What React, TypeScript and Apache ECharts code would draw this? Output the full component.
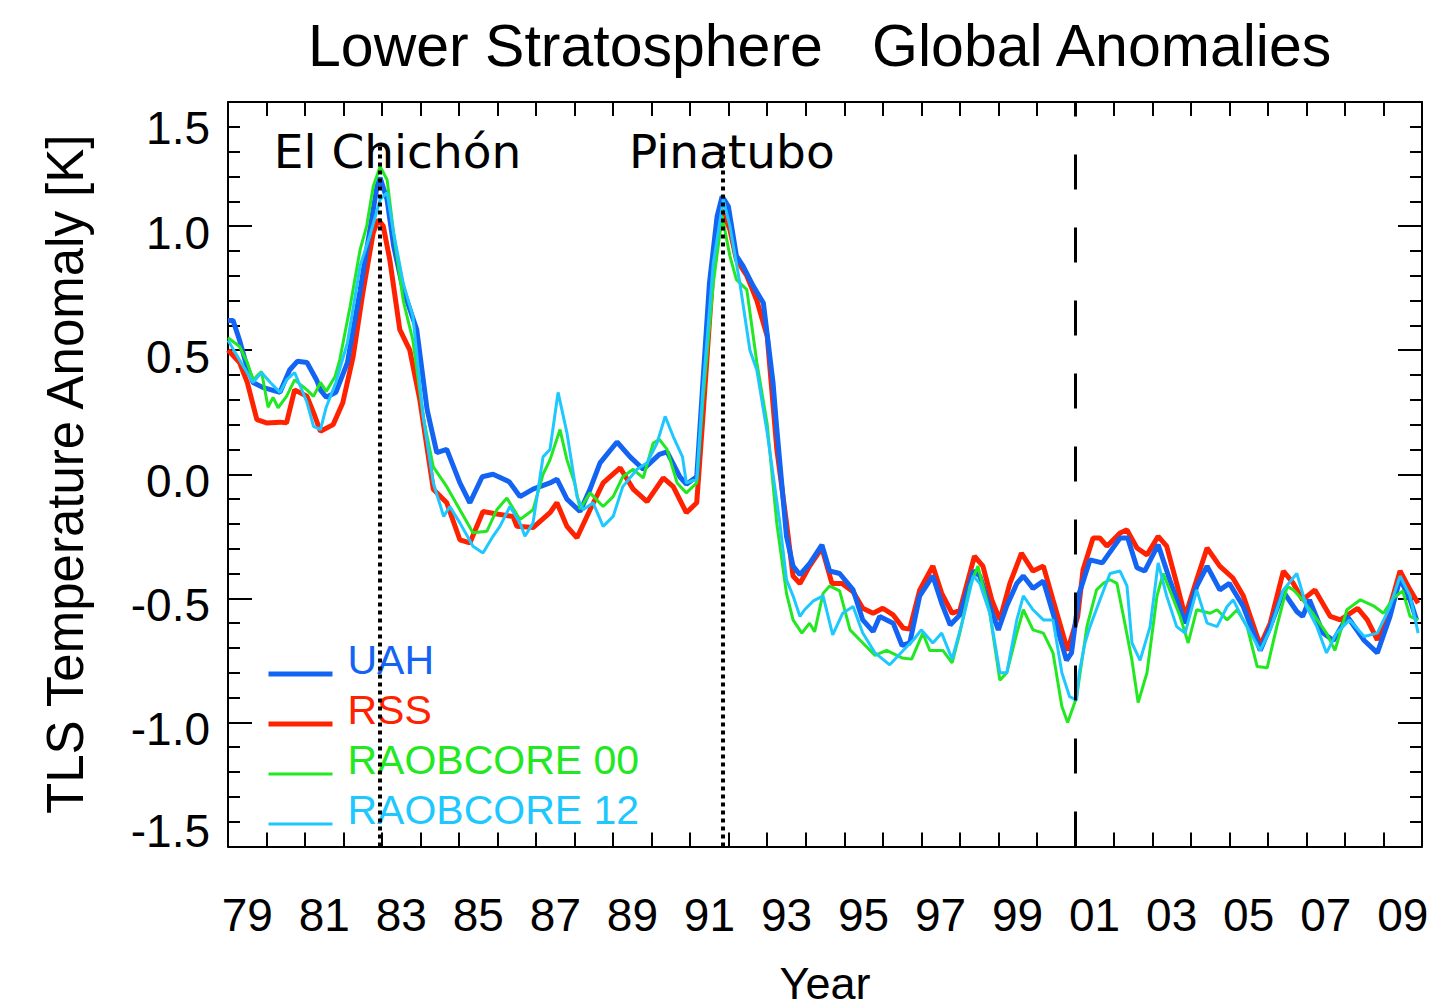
import React, { useEffect, useRef } from 'react';
import * as echarts from 'echarts';

// ---- Data: [decimal year, anomaly K] ----
const UAH: [number, number][] = [
  [1979.0, 0.62], [1979.13, 0.62], [1979.3, 0.54], [1979.48, 0.44], [1979.65, 0.37], [1979.9, 0.35],
  [1980.35, 0.33], [1980.6, 0.42], [1980.8, 0.455], [1981.05, 0.45], [1981.3, 0.38], [1981.4, 0.34],
  [1981.55, 0.31], [1981.8, 0.33], [1982.1, 0.45], [1982.43, 0.74], [1982.6, 0.905], [1982.87, 1.16],
  [1982.95, 1.195], [1983.13, 1.107], [1983.3, 0.92], [1983.55, 0.744], [1983.9, 0.583], [1984.17, 0.26],
  [1984.42, 0.087], [1984.68, 0.1], [1985.02, -0.035], [1985.28, -0.115], [1985.6, -0.01], [1985.88, 0.0],
  [1986.3, -0.03], [1986.58, -0.09], [1986.92, -0.06], [1987.36, -0.035], [1987.54, -0.02], [1987.8, -0.1],
  [1988.14, -0.15], [1988.4, -0.06], [1988.66, 0.046], [1989.1, 0.13], [1989.44, 0.07], [1989.78, 0.02],
  [1990.2, 0.08], [1990.4, 0.09], [1990.73, -0.01], [1990.9, -0.04], [1991.17, -0.01], [1991.33, 0.37],
  [1991.5, 0.77], [1991.7, 1.04], [1991.83, 1.12], [1991.99, 1.08], [1992.2, 0.88], [1992.37, 0.84],
  [1992.63, 0.76], [1992.9, 0.69], [1993.15, 0.37], [1993.25, 0.18], [1993.5, -0.25], [1993.67, -0.37],
  [1993.85, -0.405], [1994.1, -0.36], [1994.42, -0.285], [1994.62, -0.39], [1994.88, -0.4], [1995.23, -0.466],
  [1995.48, -0.587], [1995.75, -0.634], [1995.92, -0.573], [1996.27, -0.6], [1996.5, -0.69], [1996.7, -0.68],
  [1996.96, -0.49], [1997.3, -0.41], [1997.53, -0.52], [1997.75, -0.607], [1998.0, -0.567], [1998.35, -0.39],
  [1998.52, -0.41], [1998.78, -0.533], [1999.0, -0.627], [1999.22, -0.53], [1999.48, -0.44], [1999.65, -0.41],
  [1999.9, -0.46], [2000.17, -0.43], [2000.42, -0.56], [2000.77, -0.75], [2000.9, -0.72], [2001.1, -0.48],
  [2001.38, -0.345], [2001.7, -0.357], [2002.16, -0.257], [2002.36, -0.257], [2002.6, -0.377], [2002.8, -0.39],
  [2003.15, -0.284], [2003.45, -0.425], [2003.85, -0.6], [2004.15, -0.452], [2004.42, -0.37], [2004.75, -0.466],
  [2005.0, -0.44], [2005.36, -0.533], [2005.8, -0.71], [2006.06, -0.614], [2006.4, -0.473], [2006.75, -0.553],
  [2006.9, -0.573], [2007.08, -0.506], [2007.43, -0.64], [2007.7, -0.67], [2008.06, -0.573], [2008.5, -0.67],
  [2008.84, -0.72], [2009.17, -0.573], [2009.43, -0.42], [2009.69, -0.506], [2009.86, -0.587],
];

const RSS: [number, number][] = [
  [1979.0, 0.5], [1979.3, 0.45], [1979.5, 0.37], [1979.75, 0.22], [1980.0, 0.207], [1980.35, 0.21],
  [1980.52, 0.207], [1980.73, 0.34], [1981.05, 0.314], [1981.22, 0.248], [1981.4, 0.173], [1981.73, 0.2],
  [1981.98, 0.288], [1982.25, 0.475], [1982.5, 0.73], [1982.77, 0.973], [1982.9, 1.026], [1983.03, 1.0],
  [1983.2, 0.865], [1983.46, 0.583], [1983.72, 0.5], [1983.98, 0.3], [1984.33, -0.06], [1984.68, -0.115],
  [1985.02, -0.264], [1985.28, -0.277], [1985.62, -0.15], [1985.98, -0.16], [1986.4, -0.17], [1986.5, -0.21],
  [1986.92, -0.215], [1987.36, -0.155], [1987.54, -0.115], [1987.8, -0.21], [1988.06, -0.256], [1988.4, -0.143],
  [1988.74, -0.035], [1989.18, 0.026], [1989.52, -0.06], [1989.88, -0.11], [1990.3, -0.015], [1990.56, -0.05],
  [1990.9, -0.155], [1991.17, -0.115], [1991.33, 0.23], [1991.6, 0.84], [1991.83, 1.066], [1992.03, 0.986],
  [1992.2, 0.865], [1992.47, 0.8], [1992.73, 0.7], [1993.0, 0.556], [1993.25, 0.1], [1993.5, -0.196],
  [1993.67, -0.41], [1993.85, -0.44], [1994.1, -0.37], [1994.42, -0.297], [1994.68, -0.44], [1994.94, -0.44],
  [1995.23, -0.473], [1995.48, -0.54], [1995.75, -0.56], [1996.0, -0.54], [1996.27, -0.567], [1996.53, -0.62],
  [1996.7, -0.624], [1996.96, -0.466], [1997.3, -0.37], [1997.53, -0.48], [1997.8, -0.56], [1998.0, -0.55],
  [1998.38, -0.33], [1998.6, -0.37], [1998.83, -0.506], [1999.04, -0.587], [1999.3, -0.44], [1999.6, -0.318],
  [1999.9, -0.39], [2000.17, -0.37], [2000.42, -0.506], [2000.8, -0.71], [2001.06, -0.573], [2001.2, -0.385],
  [2001.46, -0.257], [2001.64, -0.257], [2001.82, -0.29], [2002.16, -0.237], [2002.34, -0.224], [2002.6, -0.297],
  [2002.86, -0.325], [2003.15, -0.25], [2003.37, -0.29], [2003.63, -0.44], [2003.85, -0.573], [2004.15, -0.425],
  [2004.42, -0.297], [2004.75, -0.37], [2005.09, -0.418], [2005.36, -0.49], [2005.8, -0.69], [2006.06, -0.6],
  [2006.4, -0.39], [2006.66, -0.44], [2006.9, -0.506], [2007.22, -0.466], [2007.62, -0.573], [2007.88, -0.587],
  [2008.33, -0.54], [2008.58, -0.587], [2008.84, -0.667], [2009.1, -0.573], [2009.43, -0.39], [2009.69, -0.466],
  [2009.9, -0.52],
];

const RAOBCORE00: [number, number][] = [
  [1979.0, 0.55], [1979.3, 0.515], [1979.5, 0.45], [1979.65, 0.38], [1979.87, 0.414], [1980.04, 0.27],
  [1980.17, 0.31], [1980.3, 0.268], [1980.52, 0.314], [1980.73, 0.38], [1981.05, 0.34], [1981.22, 0.314],
  [1981.4, 0.37], [1981.55, 0.334], [1981.78, 0.394], [1981.9, 0.46], [1982.17, 0.676], [1982.43, 0.905],
  [1982.6, 1.0], [1982.77, 1.16], [1982.95, 1.24], [1983.13, 1.187], [1983.3, 0.973], [1983.55, 0.7],
  [1983.8, 0.54], [1984.07, 0.23], [1984.33, 0.03], [1984.68, -0.05], [1985.02, -0.143], [1985.36, -0.236],
  [1985.72, -0.23], [1985.98, -0.143], [1986.24, -0.096], [1986.58, -0.183], [1986.92, -0.143], [1987.18, 0.0],
  [1987.36, 0.058], [1987.62, 0.18], [1987.8, 0.058], [1988.0, -0.035], [1988.14, -0.14], [1988.4, -0.075],
  [1988.74, -0.13], [1989.0, -0.09], [1989.25, -0.01], [1989.52, 0.02], [1989.78, -0.015], [1990.04, 0.126],
  [1990.2, 0.14], [1990.4, 0.1], [1990.66, -0.035], [1990.9, -0.075], [1991.17, -0.035], [1991.33, 0.3],
  [1991.6, 0.77], [1991.83, 1.04], [1992.03, 0.88], [1992.2, 0.784], [1992.47, 0.744], [1992.73, 0.45],
  [1993.0, 0.2], [1993.25, -0.2], [1993.5, -0.48], [1993.67, -0.587], [1993.9, -0.64], [1994.1, -0.6],
  [1994.23, -0.635], [1994.45, -0.48], [1994.62, -0.45], [1994.88, -0.47], [1995.15, -0.627], [1995.4, -0.667],
  [1995.8, -0.73], [1996.1, -0.71], [1996.5, -0.74], [1996.75, -0.745], [1997.04, -0.64], [1997.22, -0.71],
  [1997.56, -0.71], [1997.8, -0.76], [1998.0, -0.64], [1998.26, -0.452], [1998.47, -0.37], [1998.78, -0.56],
  [1999.04, -0.83], [1999.22, -0.8], [1999.48, -0.64], [1999.65, -0.546], [1999.9, -0.627], [2000.17, -0.64],
  [2000.42, -0.72], [2000.65, -0.936], [2000.8, -1.0], [2001.03, -0.9], [2001.3, -0.614], [2001.55, -0.466],
  [2001.72, -0.44], [2001.9, -0.425], [2002.08, -0.44], [2002.25, -0.573], [2002.47, -0.75], [2002.63, -0.92],
  [2002.86, -0.8], [2003.12, -0.49], [2003.28, -0.4], [2003.55, -0.506], [2003.72, -0.573], [2003.93, -0.68],
  [2004.15, -0.546], [2004.5, -0.56], [2004.68, -0.546], [2004.94, -0.587], [2005.2, -0.546], [2005.46, -0.614],
  [2005.72, -0.775], [2005.98, -0.78], [2006.23, -0.614], [2006.5, -0.452], [2006.66, -0.466], [2006.9, -0.506],
  [2007.16, -0.56], [2007.52, -0.64], [2007.74, -0.71], [2008.05, -0.546], [2008.4, -0.506], [2008.74, -0.53],
  [2009.0, -0.56], [2009.25, -0.5], [2009.5, -0.47], [2009.69, -0.573], [2009.9, -0.587],
];

const RAOBCORE12: [number, number][] = [
  [1979.0, 0.54], [1979.3, 0.46], [1979.65, 0.37], [1979.87, 0.41], [1980.1, 0.37], [1980.35, 0.33],
  [1980.52, 0.38], [1980.73, 0.41], [1981.05, 0.29], [1981.22, 0.193], [1981.4, 0.18], [1981.55, 0.27],
  [1981.8, 0.37], [1982.1, 0.53], [1982.43, 0.84], [1982.68, 0.96], [1982.95, 1.107], [1983.13, 1.135],
  [1983.3, 0.973], [1983.55, 0.77], [1983.8, 0.636], [1984.07, 0.23], [1984.33, -0.035], [1984.6, -0.17],
  [1984.76, -0.13], [1985.02, -0.196], [1985.36, -0.29], [1985.62, -0.317], [1985.88, -0.25], [1986.06, -0.21],
  [1986.32, -0.13], [1986.58, -0.196], [1986.71, -0.25], [1986.92, -0.196], [1987.18, 0.07], [1987.36, 0.1],
  [1987.57, 0.33], [1987.8, 0.167], [1988.06, -0.09], [1988.22, -0.143], [1988.48, -0.115], [1988.74, -0.21],
  [1989.0, -0.17], [1989.25, -0.05], [1989.62, 0.02], [1989.88, 0.046], [1990.14, 0.126], [1990.35, 0.233],
  [1990.56, 0.152], [1990.8, 0.07], [1990.9, -0.035], [1991.17, -0.02], [1991.33, 0.34], [1991.6, 0.85],
  [1991.86, 1.107], [1992.03, 1.0], [1992.29, 0.77], [1992.55, 0.5], [1992.73, 0.42], [1993.0, 0.167],
  [1993.33, -0.2], [1993.5, -0.425], [1993.67, -0.49], [1993.85, -0.573], [1993.97, -0.546], [1994.2, -0.51],
  [1994.45, -0.49], [1994.7, -0.647], [1994.96, -0.56], [1995.23, -0.533], [1995.48, -0.64], [1995.8, -0.72],
  [1996.18, -0.768], [1996.53, -0.71], [1996.8, -0.667], [1997.0, -0.627], [1997.3, -0.68], [1997.53, -0.64],
  [1997.8, -0.745], [1998.08, -0.587], [1998.35, -0.41], [1998.52, -0.44], [1998.78, -0.56], [1999.04, -0.8],
  [1999.22, -0.8], [1999.48, -0.587], [1999.65, -0.49], [1999.9, -0.546], [2000.17, -0.587], [2000.42, -0.587],
  [2000.65, -0.8], [2000.85, -0.896], [2001.03, -0.91], [2001.1, -0.8], [2001.25, -0.68], [2001.38, -0.614],
  [2001.64, -0.506], [2001.9, -0.4], [2002.16, -0.39], [2002.34, -0.45], [2002.47, -0.68], [2002.68, -0.75],
  [2002.94, -0.614], [2003.15, -0.357], [2003.37, -0.49], [2003.63, -0.614], [2003.85, -0.64], [2004.15, -0.466],
  [2004.42, -0.6], [2004.68, -0.614], [2004.94, -0.533], [2005.1, -0.506], [2005.36, -0.587], [2005.8, -0.71],
  [2006.06, -0.627], [2006.4, -0.466], [2006.75, -0.4], [2007.0, -0.533], [2007.27, -0.614], [2007.52, -0.72],
  [2007.78, -0.64], [2008.12, -0.587], [2008.5, -0.654], [2008.84, -0.64], [2009.17, -0.533], [2009.43, -0.41],
  [2009.69, -0.49], [2009.9, -0.64],
];

// Tick labels
const xTickLabels = ['79', '81', '83', '85', '87', '89', '91', '93', '95', '97', '99', '01', '03', '05', '07', '09'];
const yTickLabels = ['-1.5', '-1.0', '-0.5', '0.0', '0.5', '1.0', '1.5'];

// Eruption annotations
const eruptionNames = ['El Chichón', 'Pinatubo'];
const eruptionYears = [1982.95, 1991.85];
const eruptionLabelYears = [1983.4, 1992.08];
const eruptionLabelLevel = 1.3;
const eruptionLineTop = 1.33;
const breakYear = 2001.0;

const FONT = '"Liberation Sans", Arial, Helvetica, sans-serif';
const BLACK = '#000';

const seriesDefs = [
  { name: 'RSS', data: RSS, color: '#ff2200', width: 5 },
  { name: 'UAH', data: UAH, color: '#1464f4', width: 5 },
  { name: 'RAOBCORE 00', data: RAOBCORE00, color: '#22e822', width: 3 },
  { name: 'RAOBCORE 12', data: RAOBCORE12, color: '#1ec8ff', width: 3 },
];
const legendOrder = ['UAH', 'RSS', 'RAOBCORE 00', 'RAOBCORE 12'];

export default function App() {
  const ref = useRef<HTMLDivElement>(null);

  useEffect(() => {
    if (!ref.current) return;
    const chart = echarts.init(ref.current, null, { renderer: 'svg' });
    const axisLine = { show: true, onZero: false, lineStyle: { color: BLACK, width: 2 } };
    const tickLine = { color: BLACK, width: 2 };
    const yLabelStyle = { fontFamily: FONT, fontSize: 46, color: BLACK };
    const legendTextStyle = { fontFamily: FONT, fontSize: 41 };

    const xTickAxis = (position: 'bottom' | 'top') => ({
      type: 'value',
      position,
      min: 1979,
      max: 2010,
      interval: 1,
      axisLine,
      axisTick: { show: true, inside: true, length: 14, lineStyle: tickLine },
      axisLabel: { show: false },
      splitLine: { show: false },
    });

    const yAxisBase = (position: 'left' | 'right') => ({
      type: 'value',
      position,
      min: -1.5,
      max: 1.5,
      interval: 0.5,
      axisLine,
      axisTick: { show: true, inside: true, length: 24, lineStyle: tickLine },
      minorTick: { show: true, splitNumber: 5, length: 12, lineStyle: tickLine },
      splitLine: { show: false },
      minorSplitLine: { show: false },
    });

    chart.setOption({
      animation: false,
      backgroundColor: '#ffffff',
      title: {
        text: 'Lower Stratosphere   Global Anomalies',
        left: 308,
        top: 16,
        padding: 0,
        textStyle: { fontFamily: FONT, fontSize: 59, fontWeight: 'normal', color: BLACK },
      },
      grid: { left: 228, top: 102, width: 1194, height: 744.5, containLabel: false, outerBoundsMode: 'none' },
      legend: {
        orient: 'vertical',
        left: 266,
        top: 639,
        padding: 0,
        itemWidth: 64,
        itemHeight: 6,
        itemGap: 9,
        selectedMode: false,
        lineStyle: { width: 'inherit' },
        itemStyle: { opacity: 0 },
        formatter: (name: string) => `{a|${name}}`,
        textStyle: { ...legendTextStyle, rich: { a: { ...legendTextStyle, padding: [0, 0, 29, 10] } } },
        data: legendOrder.map((n) => {
          const d = seriesDefs.find((s) => s.name === n)!;
          return { name: n, textStyle: { color: d.color } };
        }),
      },
      xAxis: [
        xTickAxis('bottom'),
        xTickAxis('top'),
        {
          type: 'value',
          position: 'bottom',
          min: 1979,
          max: 2010,
          interval: 0.5,
          axisLine: { show: false },
          axisTick: { show: false },
          splitLine: { show: false },
          axisLabel: {
            show: true,
            margin: 45,
            hideOverlap: false,
            showMinLabel: true,
            showMaxLabel: true,
            fontFamily: FONT,
            fontSize: 46,
            color: BLACK,
            formatter: (v: number) => {
              const h = Math.round(v * 2) / 2;
              const idx = (h - 1979.5) / 2;
              return Number.isInteger(idx) && idx >= 0 && idx < xTickLabels.length ? xTickLabels[idx] : '';
            },
          },
          name: 'Year',
          nameLocation: 'middle',
          nameGap: 114,
          nameTextStyle: { fontFamily: FONT, fontSize: 45, color: BLACK },
        },
      ],
      yAxis: [
        {
          ...yAxisBase('left'),
          axisLabel: {
            show: true,
            margin: 18,
            ...yLabelStyle,
            formatter: (v: number) => {
              const idx = Math.round((v + 1.5) / 0.5);
              const s = yTickLabels[idx] ?? '';
              const key = idx === yTickLabels.length - 1 ? 't' : idx === 0 ? 'b' : 'm';
              return `{${key}|${s}}`;
            },
            rich: {
              t: { ...yLabelStyle, padding: [52, 0, 0, 0] },
              m: { ...yLabelStyle, padding: [14, 0, 0, 0] },
              b: { ...yLabelStyle, padding: [0, 0, 32, 0] },
            },
          },
          name: 'TLS Temperature Anomaly [K]',
          nameLocation: 'middle',
          nameRotate: 90,
          nameGap: 137,
          nameTextStyle: { fontFamily: FONT, fontSize: 51, color: BLACK },
        },
        { ...yAxisBase('right'), axisLabel: { show: false } },
      ],
      series: [
        ...seriesDefs.map((s, i) => ({
          type: 'line',
          name: s.name,
          xAxisIndex: 0,
          yAxisIndex: 0,
          data: s.data,
          symbol: 'none',
          symbolSize: 0,
          showSymbol: false,
          smooth: false,
          color: s.color,
          lineStyle: { color: s.color, width: s.width },
          z: 2 + i,
          silent: true,
        })),
        {
          type: 'scatter',
          name: 'eruptions',
          xAxisIndex: 0,
          yAxisIndex: 0,
          symbolSize: 0,
          silent: true,
          z: 10,
          itemStyle: { color: BLACK, opacity: 1 },
          data: eruptionNames.map((n, i) => ({ name: n, value: [eruptionLabelYears[i], eruptionLabelLevel] })),
          label: {
            show: true,
            position: 'inside',
            formatter: '{b}',
            fontFamily: '"DejaVu Sans", sans-serif',
            fontSize: 47,
            color: BLACK,
            opacity: 1,
            textBorderWidth: 0,
            textBorderColor: 'transparent',
          },
          markLine: {
            silent: true,
            symbol: ['none', 'none'],
            label: { show: false },
            z: 10,
            data: [
              ...eruptionYears.map((y) => [
                { coord: [y, -1.5], lineStyle: { type: [4, 4], width: 4, color: BLACK, opacity: 1 } },
                { coord: [y, eruptionLineTop] },
              ]),
              [
                { coord: [breakYear, -1.5], lineStyle: { type: [35, 38], width: 3, color: BLACK, opacity: 1 } },
                { coord: [breakYear, 1.5] },
              ],
            ],
          },
        },
      ],
    });

    return () => chart.dispose();
  }, []);

  return (
    <div
      ref={ref}
      style={{ position: 'absolute', left: 0, top: 0, width: 1452, height: 1007, background: '#fff' }}
    />
  );
}
